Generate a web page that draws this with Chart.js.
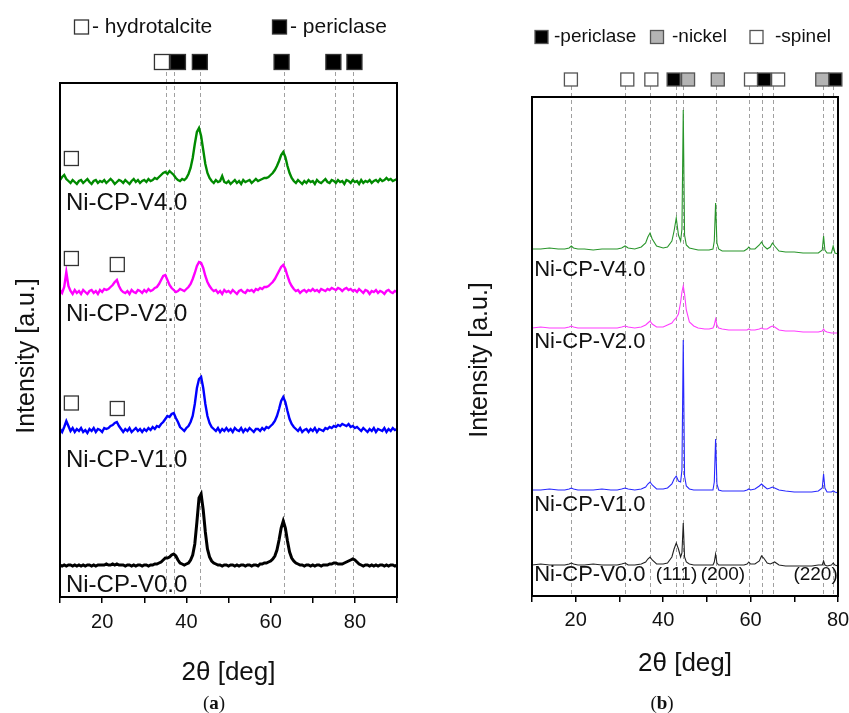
<!DOCTYPE html>
<html>
<head>
<meta charset="utf-8">
<script src="https://cdn.jsdelivr.net/npm/chart.js@4.4.1/dist/chart.umd.min.js"></script>
<style>
  html, body { margin: 0; padding: 0; background: #fff; }
  #wrap { position: relative; width: 849px; height: 713px; }
  #chartA { position: absolute; left: 0; top: 0; }
  #chartB { position: absolute; left: 430px; top: 0; }
</style>
</head>
<body>
<div id="wrap">
  <canvas id="chartA" width="430" height="713"></canvas>
  <canvas id="chartB" width="419" height="713"></canvas>
</div>
<script>
// ---------- panel (a): 2theta 10..90, step 0.5 ----------
var angleStartA = 10, angleStepA = 0.5;
var namesA = ['Ni-CP-V0.0', 'Ni-CP-V1.0', 'Ni-CP-V2.0', 'Ni-CP-V4.0'];
var offsetsA = [31, 167, 305, 415];

var v00A = [
  1,0,1,0,1,1,0,1,0,1,
  0,1,0,1,1,0,1,0,1,1,
  1,1,2,1,1,2,1,2,1,1,
  1,0,1,1,0,1,0,1,1,0,
  1,1,0,1,1,2,2,3,4,6,
  8,8,9,11,12,10,6,3,2,1,
  2,3,6,11,22,44,68,72,56,34,
  17,9,5,3,2,1,1,0,1,1,
  0,1,1,0,1,0,1,1,0,1,
  1,0,1,1,0,2,2,3,3,4,
  5,7,10,16,26,38,45,38,25,14,
  8,5,3,2,1,1,0,1,1,0,
  1,0,1,1,0,1,1,1,2,2,
  3,3,2,2,2,3,4,5,6,7,
  6,4,2,1,0,1,1,0,1,0,
  1,0,1,1,0,1,0,1,1,0,
  1];
var v10A = [
  1,-2,3,9,4,-1,2,-2,1,-1,
  2,-2,0,-3,1,-1,2,-2,1,0,
  -2,2,1,2,4,5,7,8,4,1,
  -2,1,-1,2,-2,0,2,-1,1,-2,
  1,-1,2,0,3,1,4,3,6,8,
  11,14,13,16,17,12,8,3,1,-1,
  2,4,8,14,26,42,51,53,42,26,
  14,7,3,1,-1,2,-2,1,-1,2,
  -1,1,-2,2,0,-1,2,-2,1,-1,
  2,0,-2,1,1,-1,2,0,3,2,
  4,6,9,14,21,29,33,28,19,11,
  6,3,1,-1,2,-2,0,1,-2,1,
  -1,2,-2,1,0,-1,2,1,3,2,
  4,3,5,4,6,5,4,6,3,4,
  2,3,1,-1,2,0,-2,1,-1,2,
  -2,1,0,-1,2,-2,1,-1,2,0,
  1];
var v20A = [
  2,-1,5,20,6,1,-2,2,-1,1,
  -2,2,0,-2,1,2,-1,1,-2,2,
  0,3,2,3,5,7,10,12,6,2,
  0,-1,1,-2,2,0,-1,2,1,-1,
  2,0,3,1,2,4,5,8,12,16,
  17,12,7,4,2,0,1,3,2,1,
  3,5,8,13,19,26,30,29,24,16,
  10,6,3,1,2,-1,1,-2,2,0,
  1,-1,2,0,-2,1,2,0,-1,2,
  1,2,0,3,2,4,3,5,5,6,
  8,10,13,17,21,25,27,23,16,10,
  6,3,1,2,-1,1,2,0,2,1,
  3,1,2,0,3,2,1,3,2,4,
  3,2,4,3,1,3,4,2,3,1,
  2,0,3,1,-1,2,1,-2,1,0,
  2,-1,1,0,-2,1,2,0,-1,1,
  0];
var v40A = [
  2,5,7,3,1,-1,2,0,-2,1,
  2,-1,1,3,0,-2,1,2,-1,1,
  0,2,-1,1,3,1,-2,0,2,1,
  -1,2,0,-2,1,3,0,2,-1,1,
  2,0,3,1,2,4,3,5,7,9,
  10,8,11,9,7,4,2,1,3,2,
  4,8,14,24,38,50,54,46,32,18,
  9,4,1,-1,2,0,1,6,0,-1,
  1,-2,0,2,-1,1,-2,2,0,1,
  2,-1,1,3,1,2,3,4,4,5,
  7,9,12,16,21,27,30,25,16,9,
  4,1,-1,2,0,-2,1,-1,2,0,
  1,-2,2,0,-1,1,3,0,-1,2,
  1,-1,2,0,1,-2,2,1,-1,2,
  0,1,-2,2,-1,1,0,2,-1,1,
  2,0,3,1,2,4,2,3,1,2,
  3];

var phaseLinesA = [35.2, 37.0, 43.2, 63.1, 75.4, 79.6];
var topMarkPosA = [34.2, 38.0, 43.2, 62.6, 74.9, 79.9];
var topMarkPhaseA = ['hydrotalcite', 'periclase', 'periclase', 'periclase', 'periclase', 'periclase'];
var innerMarkXA = [12.7, 12.7, 23.6, 12.7, 23.6];
var innerMarkYA = [438.5, 338.5, 332.5, 194, 188.5];
var labelYA = [12, 137, 283, 394];
var ticksA = [10, 20, 30, 40, 50, 60, 70, 80, 90];
var tickLabelsA = [20, 40, 60, 80];

// ---------- panel (b): 2theta 10..80 ----------
var gridB = [
  10, 12, 14, 16, 17.5, 18.5, 19, 19.5, 20.5, 22,
  24, 26, 28, 29.5, 30.5, 31.3, 32, 33.5, 35, 36,
  36.5, 37, 37.5, 38.5, 40, 41, 42, 42.5, 43, 43.5,
  44, 44.3, 44.6, 44.9, 45.3, 46, 47, 48, 49.5, 50.5,
  51.4, 51.7, 52, 52.3, 52.7, 53.5, 55, 57, 58.5, 59.2,
  59.6, 60, 61, 62, 62.5, 63, 63.8, 64.5, 65, 65.5,
  66.5, 68, 70, 72, 74, 75.5, 76.4, 76.7, 77, 77.5,
  78.5, 78.9, 79.3, 80];
var namesB = ['Ni-CP-V0.0', 'Ni-CP-V1.0', 'Ni-CP-V2.0', 'Ni-CP-V4.0'];
var offsetsB = [31, 106, 268, 347];

var v00B = [
  0,1,0,0,0,1,2,1,0,0,
  1,0,0,0,1,2,0,0,1,3,
  6,8,5,1,1,2,8,16,22,16,
  8,12,42,8,3,1,0,0,0,0,
  0,3,11,2,0,0,0,0,0,1,
  3,1,1,4,9,7,2,1,2,3,
  0,-1,-1,-1,-1,0,0,4,0,-1,
  0,2,0,-1];
var v10B = [
  0,0,1,0,0,1,2,1,0,0,
  0,1,0,0,1,2,1,0,1,3,
  6,8,5,1,1,2,6,11,14,9,
  8,20,150,14,4,1,0,0,0,0,
  0,8,51,6,0,-1,-1,-1,-1,0,
  1,0,1,4,6,4,1,2,3,2,
  0,-1,-2,-2,-2,-1,2,16,2,-2,
  -2,-1,-2,-3];
var v20B = [
  0,1,0,0,0,1,2,1,0,0,
  0,0,0,0,1,2,1,0,1,3,
  5,7,4,1,1,3,5,8,10,14,
  26,36,42,34,18,6,2,0,-1,-1,
  0,3,9,3,0,-1,-2,-2,-2,-2,
  -1,-2,-2,-1,0,-1,-1,1,2,1,
  -2,-3,-3,-4,-4,-4,-3,-1,-3,-4,
  -5,-5,-5,-5];
var v40B = [
  0,0,1,0,0,1,3,1,0,0,
  -1,0,0,0,1,3,1,0,2,6,
  12,16,10,3,1,2,8,18,31,14,
  8,20,139,14,4,1,0,-1,-1,-1,
  0,8,46,6,0,-2,-2,-2,-2,0,
  2,0,0,4,7,3,0,2,6,3,
  -2,-3,-3,-4,-4,-4,-1,13,-1,-4,
  -4,3,-4,-5];

var phaseLinesB = [19.0, 31.3, 37.0, 43.0, 44.6, 52.0, 59.6, 62.5, 65.1, 76.6, 78.9];
var topMarkPosB = [18.9, 31.8, 37.3, 42.4, 45.7, 52.5, 60.1, 63.1, 66.3, 76.4, 79.4];
var topMarkPhaseB = ['spinel', 'spinel', 'spinel', 'periclase', 'nickel', 'nickel', 'spinel', 'periclase', 'spinel', 'nickel', 'periclase'];
var labelYB = [21, 91, 254, 326];
var hklTextB = ['(111)', '(200)', '(220)'];
var hklPosB = [38.3, 48.6, 69.8];
var ticksB = [10, 20, 30, 40, 50, 60, 70, 80];
var tickLabelsB = [20, 40, 60, 80];

// ---------- drawing ----------
Chart.defaults.font.family = "'Liberation Sans', Arial, sans-serif";
Chart.defaults.color = '#111';

var phaseFill = { hydrotalcite: '#fff', spinel: '#fff', periclase: '#000', nickel: '#b4b4b4' };

function square(ctx, cx, cy, s, fill, stroke, lw) {
  ctx.save();
  ctx.fillStyle = fill;
  ctx.fillRect(cx - s / 2, cy - s / 2, s, s);
  ctx.strokeStyle = stroke;
  ctx.lineWidth = lw;
  ctx.strokeRect(cx - s / 2, cy - s / 2, s, s);
  ctx.restore();
}

function toPoints(xs, vals, offset) {
  return vals.map(function (v, i) { return { x: xs[i], y: offset + v }; });
}

function decor(p) {
  return {
    id: 'decor',
    beforeDatasetsDraw: function (chart) {
      var ctx = chart.ctx, a = chart.chartArea, xs = chart.scales.x;
      ctx.save();
      ctx.strokeStyle = '#a0a0a0';
      ctx.lineWidth = 1;
      ctx.setLineDash([4, 3]);
      p.lines.forEach(function (d) {
        var x = Math.round(xs.getPixelForValue(d)) + 0.5;
        ctx.beginPath();
        ctx.moveTo(x, a.top - 11);
        ctx.lineTo(x, a.bottom);
        ctx.stroke();
      });
      ctx.restore();
    },
    afterDraw: function (chart) {
      var ctx = chart.ctx, a = chart.chartArea, xs = chart.scales.x, ys = chart.scales.y;
      ctx.save();
      ctx.strokeStyle = '#000';
      ctx.lineWidth = 2;
      ctx.strokeRect(a.left, a.top, a.right - a.left, a.bottom - a.top);

      // phase markers above the frame
      p.markPos.forEach(function (d, i) {
        square(ctx, xs.getPixelForValue(d), p.markY, p.markSize, phaseFill[p.markPhase[i]], p.markStroke, 1.3);
      });
      // markers inside the plot
      (p.innerX || []).forEach(function (d, i) {
        square(ctx, xs.getPixelForValue(d), ys.getPixelForValue(p.innerY[i]), 14, '#fff', '#333', 1.3);
      });

      // sample labels
      ctx.fillStyle = '#111';
      ctx.textBaseline = 'middle';
      ctx.textAlign = 'left';
      ctx.font = p.labelFont;
      p.names.forEach(function (n, i) {
        ctx.fillText(n, xs.getPixelForValue(p.labelX), ys.getPixelForValue(p.labelY[i]));
      });
      if (p.hkl) {
        ctx.font = p.hklFont;
        p.hkl.forEach(function (t, i) {
          ctx.fillText(t, xs.getPixelForValue(p.hklPos[i]), ys.getPixelForValue(p.labelY[0]));
        });
      }

      // legend
      ctx.font = p.legendFont;
      p.legend.forEach(function (it) {
        square(ctx, it.sx, p.legendY, it.s, phaseFill[it.phase], p.markStroke, 1.3);
        ctx.fillStyle = '#111';
        ctx.fillText(it.text, it.tx, p.legendY);
      });

      // y title
      ctx.save();
      ctx.translate(p.yTitleX, p.yTitleY);
      ctx.rotate(-Math.PI / 2);
      ctx.textAlign = 'center';
      ctx.font = '25px "Liberation Sans", Arial, sans-serif';
      ctx.fillText('Intensity [a.u.]', 0, 0);
      ctx.restore();

      // caption
      ctx.textAlign = 'left';
      ctx.font = '19px "Liberation Serif", serif';
      var w1 = ctx.measureText('(').width;
      ctx.font = 'bold 19px "Liberation Serif", serif';
      var w2 = ctx.measureText(p.caption).width;
      var x0 = p.captionX - (2 * w1 + w2) / 2;
      ctx.font = '19px "Liberation Serif", serif';
      ctx.fillText('(', x0, 704);
      ctx.fillText(')', x0 + w1 + w2, 704);
      ctx.font = 'bold 19px "Liberation Serif", serif';
      ctx.fillText(p.caption, x0 + w1, 704);
      ctx.restore();
    }
  };
}

function makePanel(p) {
  var datasets = p.series.map(function (vals, i) {
    return {
      label: p.names[i],
      data: toPoints(p.xs, vals, p.offsets[i]),
      borderColor: p.colors[i],
      borderWidth: p.lineWidths[i],
      pointRadius: 0,
      tension: 0,
      fill: false
    };
  });
  return new Chart(document.getElementById(p.canvas), {
    type: 'line',
    data: { datasets: datasets },
    options: {
      responsive: false,
      animation: false,
      events: [],
      layout: { padding: p.padding },
      plugins: { legend: { display: false }, tooltip: { enabled: false } },
      scales: {
        x: {
          type: 'linear',
          min: p.xMin,
          max: p.xMax,
          afterBuildTicks: function (s) { s.ticks = p.ticks.map(function (v) { return { value: v }; }); },
          afterFit: function (s) { s.height = p.xAxisHeight; s.paddingLeft = 0; s.paddingRight = 0; },
          ticks: {
            autoSkip: false,
            maxRotation: 0,
            padding: p.tickPad,
            color: '#111',
            font: { size: 20 },
            callback: function (v) { return p.tickLabels.indexOf(v) >= 0 ? String(v) : ''; }
          },
          grid: { drawOnChartArea: false, drawTicks: true, tickLength: 6, color: '#000', lineWidth: 1.5 },
          border: { display: false },
          title: {
            display: true,
            text: '2\u03B8 [deg]',
            color: '#111',
            font: { size: 26 },
            padding: { top: 0, bottom: p.xTitlePad }
          }
        },
        y: { display: false, min: 0, max: p.yMax }
      }
    },
    plugins: [decor(p)]
  });
}

var gridA = [];
for (var i = 0; i < v00A.length; i++) gridA.push(angleStartA + i * angleStepA);

makePanel({
  canvas: 'chartA',
  xs: gridA,
  series: [v00A, v10A, v20A, v40A],
  names: namesA,
  offsets: offsetsA,
  colors: ['#000000', '#0000ff', '#ff00ff', '#008a00'],
  lineWidths: [3, 2.4, 2.4, 2.4],
  xMin: 10, xMax: 90, yMax: 514,
  ticks: ticksA, tickLabels: tickLabelsA,
  padding: { left: 60, right: 33, top: 83, bottom: 0 },
  xAxisHeight: 116, tickPad: 7, xTitlePad: 25,
  lines: phaseLinesA,
  markPos: topMarkPosA, markPhase: topMarkPhaseA, markY: 62, markSize: 15, markStroke: '#333',
  innerX: innerMarkXA, innerY: innerMarkYA,
  labelX: 11.4, labelY: labelYA, labelFont: '24px "Liberation Sans", Arial, sans-serif',
  legendY: 27, legendFont: '21px "Liberation Sans", Arial, sans-serif',
  legend: [
    { phase: 'hydrotalcite', sx: 81.5, s: 14, tx: 92, text: '- hydrotalcite' },
    { phase: 'periclase', sx: 279.5, s: 14, tx: 290, text: '- periclase' }
  ],
  yTitleX: 27, yTitleY: 356,
  caption: 'a', captionX: 214
});

makePanel({
  canvas: 'chartB',
  xs: gridB,
  series: [v00B, v10B, v20B, v40B],
  names: namesB,
  offsets: offsetsB,
  colors: ['#222222', '#2828ff', '#ff3cff', '#28952a'],
  lineWidths: [1.1, 1.1, 1.1, 1.1],
  xMin: 10, xMax: 80, yMax: 499,
  ticks: ticksB, tickLabels: tickLabelsB,
  padding: { left: 102, right: 11, top: 97, bottom: 0 },
  xAxisHeight: 117, tickPad: 6, xTitlePad: 34,
  lines: phaseLinesB,
  markPos: topMarkPosB, markPhase: topMarkPhaseB, markY: 79.5, markSize: 13, markStroke: '#555',
  labelX: 10.5, labelY: labelYB, labelFont: '22px "Liberation Sans", Arial, sans-serif',
  hkl: hklTextB, hklPos: hklPosB, hklFont: '19px "Liberation Sans", Arial, sans-serif',
  legendY: 37, legendFont: '19px "Liberation Sans", Arial, sans-serif',
  legend: [
    { phase: 'periclase', sx: 111.5, s: 13, tx: 124, text: '-periclase' },
    { phase: 'nickel', sx: 227, s: 13, tx: 242, text: '-nickel' },
    { phase: 'spinel', sx: 326.5, s: 13, tx: 345, text: '-spinel' }
  ],
  yTitleX: 50, yTitleY: 360,
  caption: 'b', captionX: 232
});
</script>
</body>
</html>
